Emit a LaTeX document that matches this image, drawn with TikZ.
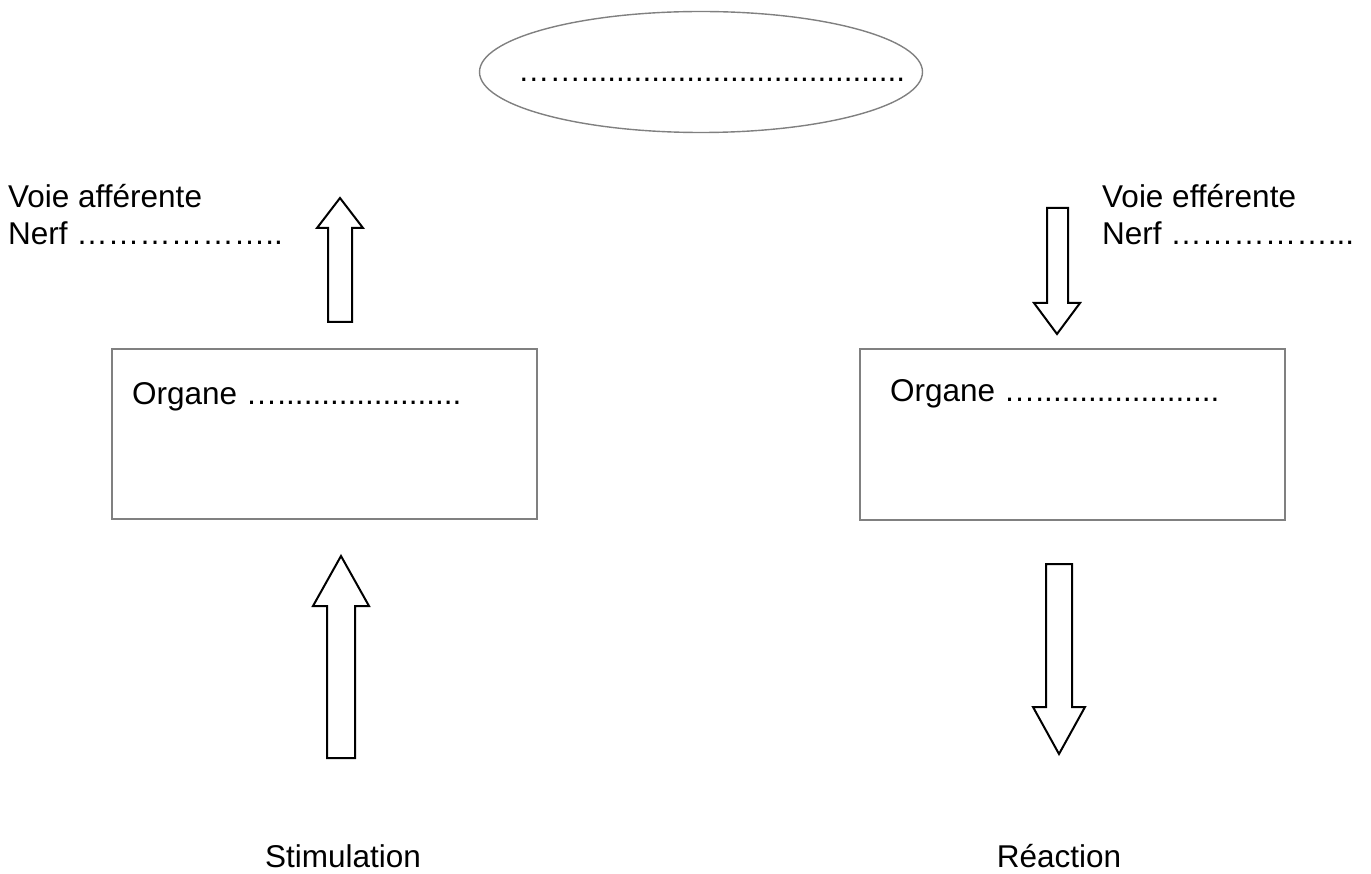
\documentclass[tikz,border=0pt]{standalone}
\usepackage{fontspec}
\setmainfont{Liberation Sans}
\usetikzlibrary{shapes.geometric}
\definecolor{boxgray}{RGB}{128,128,128}
\begin{document}
\begin{tikzpicture}[x=1pt,y=-1pt,
  lbl/.style={anchor=base west, inner sep=0pt, font=\fontsize{31.5}{37}\selectfont},
  ctr/.style={anchor=base, inner sep=0pt, font=\fontsize{31.5}{37}\selectfont},
  organbox/.style={draw=boxgray, line width=1.4pt, rectangle, inner sep=0pt},
  blockarrow/.style={draw=black, line width=2pt, line join=miter, fill=white}]
\useasboundingbox (0,0) rectangle (1371,874);
% top ellipse
\node[draw=boxgray, line width=1.4pt, ellipse, inner sep=0pt, minimum width=443pt, minimum height=121pt] (centre) at (701,72) {};
\node[lbl] (centretext) at (518,82) {…….....................................};
% boxes
\node[organbox, minimum width=425pt, minimum height=170pt] (orgL) at (324.5,434) {};
\node[organbox, minimum width=425pt, minimum height=171pt] (orgR) at (1072.5,434.5) {};
\node[lbl] (orgLtext) at (132,405) {Organe ….....................};
\node[lbl] (orgRtext) at (890,402) {Organe ….....................};
% labels
\node[lbl] (aff1) at (8,208) {Voie afférente};
\node[lbl] (aff2) at (8,245) {Nerf ………………..};
\node[lbl] (eff1) at (1102,208) {Voie efférente};
\node[lbl] (eff2) at (1102,245) {Nerf ……………...};
\node[ctr] (stim) at (343,867) {Stimulation};
\node[ctr] (reac) at (1059,867) {Réaction};
% block arrows
\draw[blockarrow] (340,198) -- (363,228) -- (352,228) -- (352,322) -- (328,322) -- (328,228) -- (317,228) -- cycle;
\draw[blockarrow] (341,556) -- (369,606) -- (355,606) -- (355,758) -- (327,758) -- (327,606) -- (313,606) -- cycle;
\draw[blockarrow] (1047,208) -- (1068,208) -- (1068,303) -- (1080,303) -- (1057,334) -- (1034,303) -- (1047,303) -- cycle;
\draw[blockarrow] (1046,564) -- (1072,564) -- (1072,707) -- (1085,707) -- (1059,754) -- (1033,707) -- (1046,707) -- cycle;
\end{tikzpicture}
\end{document}
